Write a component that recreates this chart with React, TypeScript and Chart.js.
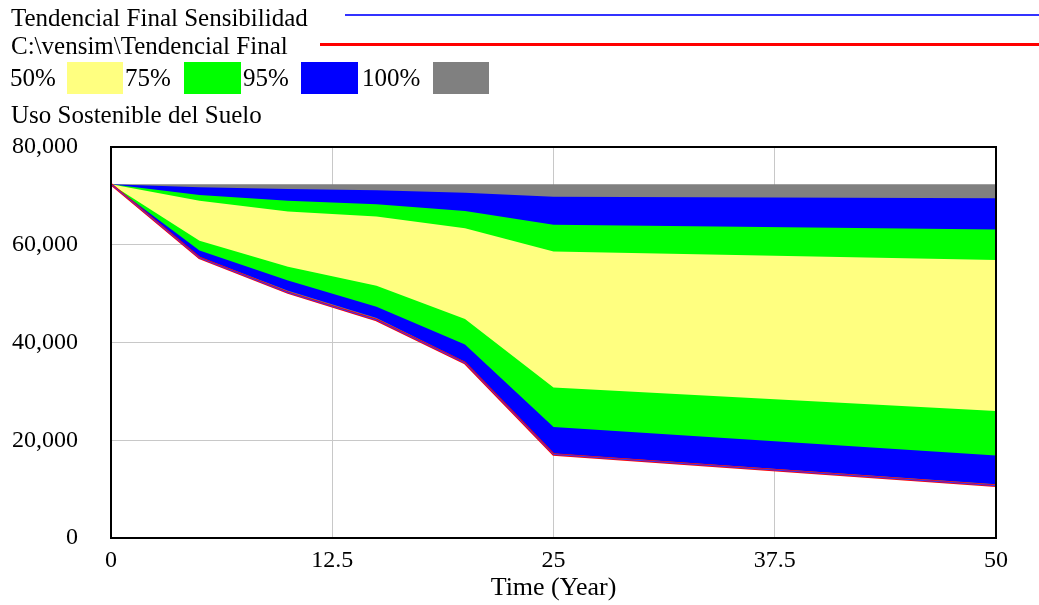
import React, { useEffect, useRef } from "react";
import { Chart, registerables } from "chart.js";

Chart.register(...registerables);

// ---- data ----
const times = [0, 5, 10, 15, 20, 25, 50];
const baseRun = [72400, 57300, 50200, 44600, 35800, 17100, 10700]; // C:\vensim\Tendencial Final
const sensRun = [72400, 57300, 50200, 44600, 35800, 17100, 10700]; // Tendencial Final Sensibilidad
const maxBound = [72400, 72400, 72400, 72400, 72400, 72400, 72400]; // 100% upper
const minBound = [72400, 57300, 50200, 44600, 35800, 17100, 10700]; // 100% lower
const p975 = [72400, 71750, 71400, 71150, 70650, 69800, 69500]; // 95% upper
const p025 = [72400, 57500, 50600, 45000, 36000, 17300, 11000]; // 95% lower
const p875 = [72400, 70200, 69000, 68300, 66900, 64100, 63100]; // 75% upper
const p125 = [72400, 58800, 52700, 47300, 39600, 22700, 16900]; // 75% lower
const p75 = [72400, 69000, 66800, 65800, 63400, 58600, 56900]; // 50% upper
const p25 = [72400, 60800, 55500, 51600, 44800, 30800, 26000]; // 50% lower

const xTicks = [0, 12.5, 25, 37.5, 50];
const yTicks = [0, 20000, 40000, 60000, 80000];

const FONT = '"Liberation Serif", "Times New Roman", Times, serif';
const YELLOW = "#ffff80";
const GREEN = "#00ff00";
const BLUE = "#0000ff";
const GRAY = "#808080";

const pts = (arr: number[]) => times.map((t, i) => ({ x: t, y: arr[i] }));

const bandUpper = (arr: number[], color: string) => ({
  data: pts(arr),
  borderColor: "rgba(0,0,0,0)",
  borderWidth: 0,
  backgroundColor: color,
  fill: "+1",
  pointRadius: 0,
  tension: 0,
});
const bandLower = (arr: number[]) => ({
  data: pts(arr),
  borderColor: "rgba(0,0,0,0)",
  borderWidth: 0,
  backgroundColor: "rgba(0,0,0,0)",
  fill: false,
  pointRadius: 0,
  tension: 0,
});

const framePlugin = {
  id: "frame",
  afterDraw(chart: any) {
    const { ctx, chartArea } = chart;
    ctx.save();
    ctx.strokeStyle = "#000";
    ctx.lineWidth = 2;
    ctx.strokeRect(chartArea.left, chartArea.top, chartArea.right - chartArea.left, chartArea.bottom - chartArea.top);
    ctx.restore();
  },
};

export default function App() {
  const ref = useRef<HTMLCanvasElement | null>(null);

  useEffect(() => {
    if (!ref.current) return;
    const chart = new Chart(ref.current, {
      type: "line",
      data: {
        datasets: [
          {
            data: pts(sensRun),
            borderColor: "#3333ff",
            borderWidth: 1,
            pointRadius: 0,
            fill: false,
            tension: 0,
          },
          {
            data: pts(baseRun),
            borderColor: "#ff0000",
            borderWidth: 2.5,
            pointRadius: 0,
            fill: false,
            tension: 0,
          },
          bandUpper(p75, YELLOW),
          bandLower(p25),
          bandUpper(p875, GREEN),
          bandLower(p125),
          bandUpper(p975, BLUE),
          bandLower(p025),
          bandUpper(maxBound, GRAY),
          bandLower(minBound),
        ] as any,
      },
      options: {
        responsive: false,
        animation: false,
        layout: { padding: { top: 147, right: 43, left: 0, bottom: 0 } },
        plugins: {
          legend: { display: false },
          tooltip: { enabled: false },
          filler: { propagate: false },
        },
        scales: {
          x: {
            type: "linear",
            min: 0,
            max: 50,
            afterBuildTicks: (s: any) => {
              s.ticks = xTicks.map((v) => ({ value: v }));
            },
            afterFit: (s: any) => {
              s.height = 67;
            },
            grid: { color: "#c8c8c8", lineWidth: 1, drawTicks: false },
            border: { display: false },
            ticks: {
              padding: 8,
              color: "#000",
              maxRotation: 0,
              autoSkip: false,
              font: { family: FONT, size: 24 },
              callback: (v: any) => String(v),
            },
            title: {
              display: true,
              text: "Time (Year)",
              color: "#000",
              font: { family: FONT, size: 26 },
              padding: { top: 0, bottom: 1 },
            },
          },
          y: {
            type: "linear",
            min: 0,
            max: 80000,
            afterBuildTicks: (s: any) => {
              s.ticks = yTicks.map((v) => ({ value: v }));
            },
            afterFit: (s: any) => {
              s.width = 111;
            },
            grid: { color: "#c8c8c8", lineWidth: 1, drawTicks: false },
            border: { display: false },
            ticks: {
              padding: 33,
              color: "#000",
              autoSkip: false,
              font: { family: FONT, size: 24 },
              callback: (v: any) => Number(v).toLocaleString("en-US"),
            },
          },
        },
      } as any,
      plugins: [framePlugin],
    });
    return () => chart.destroy();
  }, []);

  const text = (s: string, left: number, top: number) => (
    <div
      style={{
        position: "absolute",
        left,
        top,
        fontFamily: FONT,
        fontSize: 25,
        lineHeight: "25px",
        color: "#000",
        whiteSpace: "nowrap",
      }}
    >
      {s}
    </div>
  );
  const box = (left: number, top: number, w: number, h: number, bg: string) => (
    <div style={{ position: "absolute", left, top, width: w, height: h, background: bg }} />
  );

  return (
    <div style={{ position: "fixed", left: 0, top: 0, width: 1039, height: 605, background: "#fff", overflow: "hidden" }}>
      <canvas ref={ref} width={1039} height={605} style={{ position: "absolute", left: 0, top: 0, display: "block" }} />
      {text("Tendencial Final Sensibilidad", 11, 5)}
      {box(345, 14, 694, 2, "#3333ff")}
      {text("C:\\vensim\\Tendencial Final", 11, 33)}
      {box(320, 43, 719, 3, "#ff0000")}
      {text("50%", 10, 65)}
      {box(67, 62, 56, 32, YELLOW)}
      {text("75%", 125, 65)}
      {box(184, 62, 57, 32, GREEN)}
      {text("95%", 243, 65)}
      {box(301, 62, 57, 32, BLUE)}
      {text("100%", 362, 65)}
      {box(433, 62, 56, 32, GRAY)}
      {text("Uso Sostenible del Suelo", 11, 102)}
    </div>
  );
}
